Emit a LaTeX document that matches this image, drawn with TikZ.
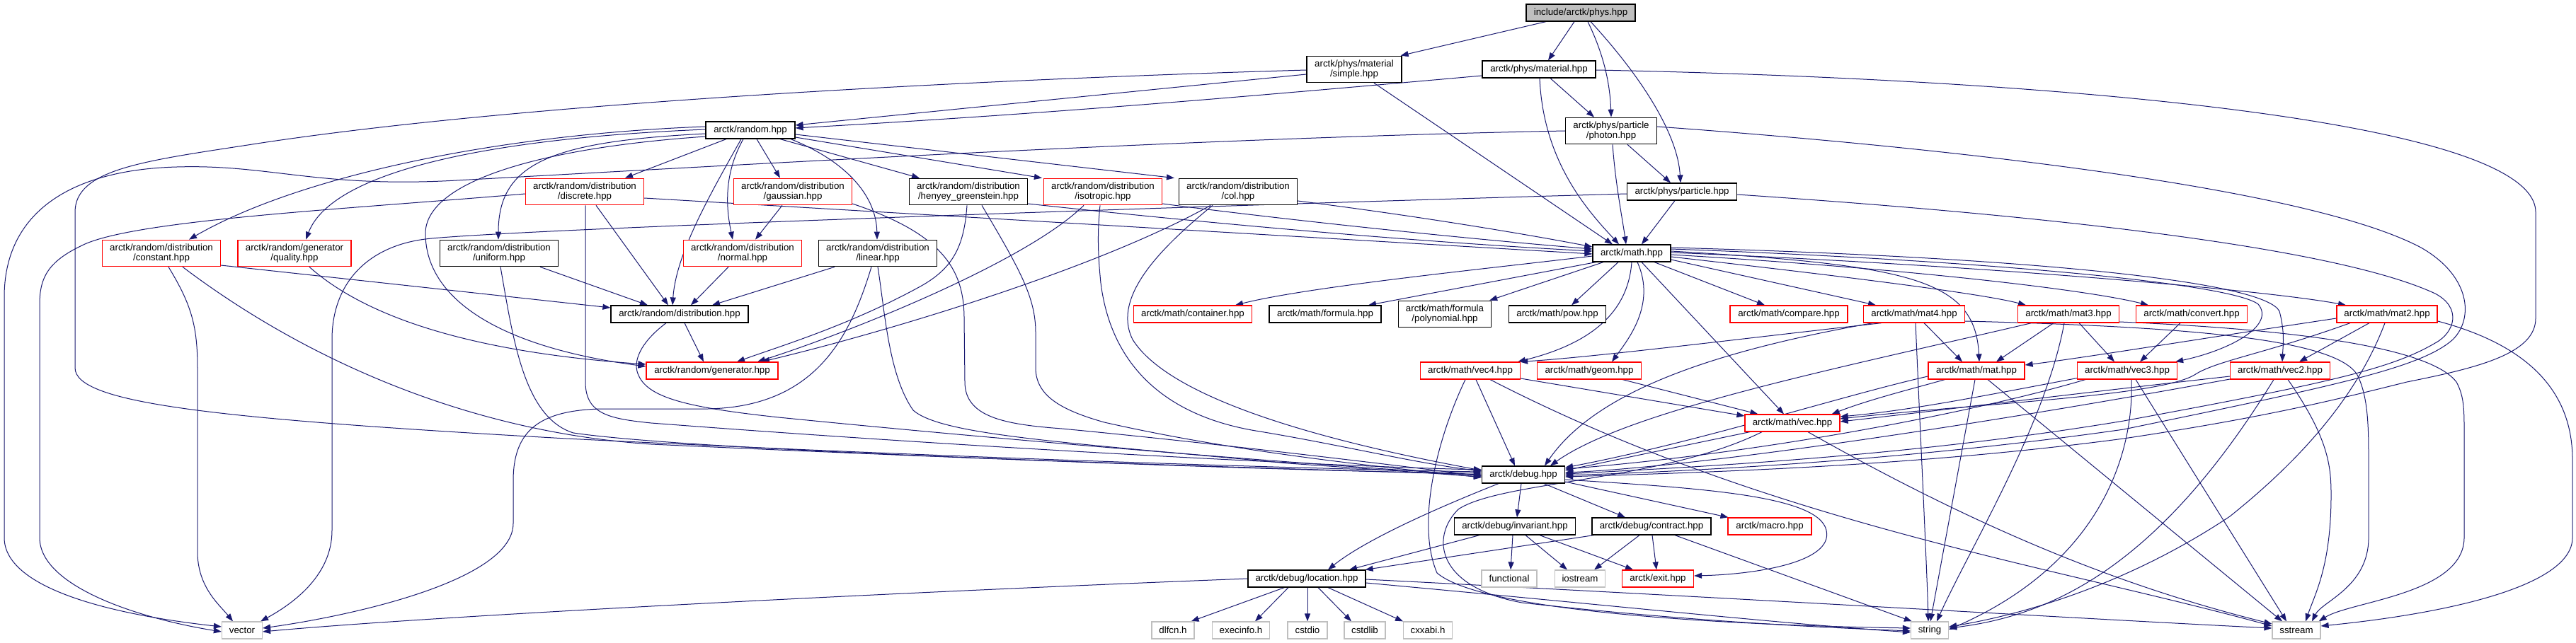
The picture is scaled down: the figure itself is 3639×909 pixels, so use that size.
\documentclass[tikz,border=0pt]{standalone}
\usepackage{fontspec}
\setmainfont{Liberation Sans}
\usetikzlibrary{arrows.meta,calc}
\definecolor{edgec}{HTML}{191970}
\definecolor{leafgray}{HTML}{BFBFBF}
\definecolor{redc}{HTML}{FF0000}
\pgfdeclarelayer{paper}
\pgfdeclarelayer{edgelayer}
\pgfsetlayers{paper,edgelayer,main}
\tikzset{
  base/.style={rectangle, inner sep=0pt, font=\fontsize{6.65pt}{6.85pt}\selectfont, align=center, minimum height=12pt, line width=0.6pt, fill=white},
  blk/.style={base, draw=black},
  redbox/.style={base, draw=redc},
  gry/.style={base, draw=leafgray},
  two/.style={minimum height=18.75pt},
  dep/.style={draw=edgec, line width=0.5pt, -{Triangle[length=5.5pt,width=4pt]}}
}
\begin{document}
\begin{tikzpicture}[x=0.5pt,y=-0.5pt]
\begin{pgfonlayer}{paper}
\fill[white] (0,0) rectangle (3639,909);
\end{pgfonlayer}
\useasboundingbox (0,0) rectangle (3639,909);

% ---------------- nodes ----------------
\node[blk, fill=leafgray, minimum width=77pt] (phys) at (2233,18) {include/arctk/phys.hpp};
\node[blk, two, minimum width=67pt] (simple) at (1913,98) {arctk/phys/material\\/simple.hpp};
\node[blk, minimum width=80pt] (material) at (2174,98) {arctk/phys/material.hpp};
\node[blk, two, minimum width=64.5pt] (photon) at (2276,185) {arctk/phys/particle\\/photon.hpp};
\node[blk, minimum width=77.5pt] (particle) at (2376,271) {arctk/phys/particle.hpp};
\node[blk, minimum width=63pt] (random) at (1060,184) {arctk/random.hpp};
\node[blk, minimum width=55pt] (math) at (2305,358) {arctk/math.hpp};

\node[redbox, two, minimum width=83.5pt] (discrete) at (826,271) {arctk/random/distribution\\/discrete.hpp};
\node[redbox, two, minimum width=83.5pt] (gaussian) at (1120,271) {arctk/random/distribution\\/gaussian.hpp};
\node[blk, two, minimum width=83.5pt] (henyey) at (1368,271) {arctk/random/distribution\\/henyey\_greenstein.hpp};
\node[redbox, two, minimum width=83.5pt] (isotropic) at (1558,271) {arctk/random/distribution\\/isotropic.hpp};
\node[blk, two, minimum width=83.5pt] (col) at (1749,271) {arctk/random/distribution\\/col.hpp};

\node[redbox, two, minimum width=83.5pt] (constant) at (228,358) {arctk/random/distribution\\/constant.hpp};
\node[redbox, two, minimum width=80pt] (quality) at (416,358) {arctk/random/generator\\/quality.hpp};
\node[blk, two, minimum width=83.5pt] (uniform) at (705,358) {arctk/random/distribution\\/uniform.hpp};
\node[redbox, two, minimum width=83.5pt] (normal) at (1049,358) {arctk/random/distribution\\/normal.hpp};
\node[blk, two, minimum width=83.5pt] (linear) at (1240,358) {arctk/random/distribution\\/linear.hpp};

\node[blk, minimum width=97pt] (distribution) at (960,444) {arctk/random/distribution.hpp};
\node[redbox, minimum width=93pt] (generator) at (1006,524) {arctk/random/generator.hpp};

\node[redbox, minimum width=83.5pt] (container) at (1685,444) {arctk/math/container.hpp};
\node[blk, minimum width=79pt] (formula) at (1872,444) {arctk/math/formula.hpp};
\node[blk, two, minimum width=65.5pt] (polynomial) at (2041,444) {arctk/math/formula\\/polynomial.hpp};
\node[blk, minimum width=68.5pt] (pow) at (2200,444) {arctk/math/pow.hpp};
\node[redbox, minimum width=83pt] (compare) at (2527,444) {arctk/math/compare.hpp};
\node[redbox, minimum width=71.5pt] (mat4) at (2704,444) {arctk/math/mat4.hpp};
\node[redbox, minimum width=71.5pt] (mat3) at (2922,444) {arctk/math/mat3.hpp};
\node[redbox, minimum width=78.5pt] (convert) at (3096,444) {arctk/math/convert.hpp};
\node[redbox, minimum width=71pt] (mat2) at (3372,444) {arctk/math/mat2.hpp};

\node[redbox, minimum width=70.5pt] (vec4) at (2077,524) {arctk/math/vec4.hpp};
\node[redbox, minimum width=73.5pt] (geom) at (2245,524) {arctk/math/geom.hpp};
\node[redbox, minimum width=68pt] (mat) at (2792,524) {arctk/math/mat.hpp};
\node[redbox, minimum width=70.5pt] (vec3) at (3005,524) {arctk/math/vec3.hpp};
\node[redbox, minimum width=70.5pt] (vec2) at (3221,524) {arctk/math/vec2.hpp};
\node[redbox, minimum width=67pt] (vec) at (2532,598) {arctk/math/vec.hpp};

\node[blk, minimum width=58.5pt] (debug) at (2152,671) {arctk/debug.hpp};
\node[blk, minimum width=85.5pt] (invariant) at (2140,744) {arctk/debug/invariant.hpp};
\node[blk, minimum width=84pt] (contract) at (2333,744) {arctk/debug/contract.hpp};
\node[redbox, minimum width=59pt] (macro) at (2500,744) {arctk/macro.hpp};
\node[blk, minimum width=83pt] (location) at (1846,818) {arctk/debug/location.hpp};
\node[gry, minimum width=39pt] (functional) at (2132,818) {functional};
\node[gry, minimum width=35.5pt] (iostream) at (2232,818) {iostream};
\node[redbox, minimum width=50.5pt] (exit) at (2342,818) {arctk/exit.hpp};

\node[gry, minimum width=30pt] (dlfcn) at (1657,891) {dlfcn.h};
\node[gry, minimum width=40.5pt] (execinfo) at (1753,891) {execinfo.h};
\node[gry, minimum width=28pt] (cstdio) at (1847,891) {cstdio};
\node[gry, minimum width=29pt] (cstdlib) at (1928,891) {cstdlib};
\node[gry, minimum width=34.5pt] (cxxabi) at (2017,891) {cxxabi.h};
\node[gry, minimum width=28.5pt] (vector) at (342,891) {vector};
\node[gry, minimum width=26.5pt] (string) at (2726,891) {string};
\node[gry, minimum width=34pt] (sstream) at (3244,891) {sstream};

% ---------------- edges ----------------
\begin{pgfonlayer}{edgelayer}
% phys
\draw[dep] ($(phys.south)+(-49,0)$) -- ($(simple.north east)+(-2,0)$);
\draw[dep] ($(phys.south)+(-9,0)$) -- ($(material.north)+(13,0)$);
\draw[dep] ($(phys.south)+(10,0)$) .. controls (2262,70) and (2274,110) .. (photon.north);
\draw[dep] ($(phys.south)+(14,0)$) .. controls (2320,110) and (2370,190) .. ($(particle.north)+(-2,0)$);
% material / photon / particle / simple
\draw[dep] ($(material.south)+(16,0)$) -- ($(photon.north)+(-24,0)$);
\draw[dep] ($(material.south)+(1,0)$) .. controls (2180,230) and (2245,300) .. ($(math.north)+(-18,0)$);
\draw[dep] ($(photon.south)+(2,0)$) .. controls (2282,260) and (2292,310) .. ($(math.north)+(-8,0)$);
\draw[dep] ($(photon.south)+(23,0)$) -- ($(particle.north)+(-16,0)$);
\draw[dep] ($(particle.south)+(-10,0)$) -- ($(math.north)+(14,0)$);
\draw[dep] ($(simple.south)+(28,0)$) -- ($(math.north)+(-27,0)$);
\draw[dep] ($(simple.west)+(0,7)$) -- ($(random.east)+(0,-7)$);
\draw[dep] ($(material.west)+(0,9)$) .. controls (1800,133) and (1500,160) .. ($(random.east)+(0,-3)$);
\draw[dep] ($(simple.west)+(0,1)$) .. controls (1300,115) and (700,150) .. (350,205) .. controls (200,228) and (106,240) .. (106,300) -- (106,520) .. controls (106,570) and (300,592) .. (800,620) .. controls (1400,650) and (1900,664) .. ($(debug.west)+(0,-4)$);
\draw[dep] (photon.west) .. controls (1700,195) and (1100,230) .. (645,255) .. controls (450,266) and (380,232) .. (250,236) .. controls (100,240) and (6,300) .. (6,420) -- (6,760) .. controls (6,830) and (150,868) .. ($(vector.west)+(0,-5)$);
\draw[dep] ($(photon.east)+(0,-6)$) .. controls (2700,205) and (3250,260) .. (3420,350) .. controls (3490,390) and (3495,450) .. (3465,480) .. controls (3420,520) and (3300,545) .. (3000,607) .. controls (2700,650) and (2400,666) .. ($(debug.east)+(0,1)$);
\draw[dep] ($(particle.west)+(0,3)$) .. controls (1900,285) and (800,320) .. (610,337) .. controls (520,345) and (469,400) .. (469,480) -- (469,750) .. controls (469,810) and (420,850) .. ($(vector.north east)+(-3,0)$);
\draw[dep] ($(particle.east)+(0,4)$) .. controls (2900,305) and (3300,350) .. (3440,415) .. controls (3478,435) and (3468,470) .. (3440,485) .. controls (3380,520) and (3300,540) .. (3000,595) .. controls (2700,645) and (2400,660) .. ($(debug.east)+(0,-1)$);
\draw[dep] ($(material.east)+(0,1)$) .. controls (2900,112) and (3582,170) .. (3582,300) -- (3582,450) .. controls (3582,500) and (3500,520) .. (3400,540) .. controls (3300,565) and (3200,590) .. (3000,620) .. controls (2700,660) and (2400,668) .. ($(debug.east)+(0,3)$);
% random
\draw[dep] ($(random.south)+(-34,0)$) -- ($(discrete.north)+(57,0)$);
\draw[dep] ($(random.west)+(0,-5)$) .. controls (700,190) and (420,250) .. ($(constant.north)+(39,0)$);
\draw[dep] ($(random.west)+(0,-1)$) .. controls (700,195) and (470,240) .. ($(quality.north)+(16,0)$);
\draw[dep] ($(random.west)+(0,5)$) .. controls (780,200) and (704,230) .. ($(uniform.north)+(-1,0)$);
\draw[dep] ($(random.west)+(0,9)$) .. controls (750,210) and (601,260) .. (601,330) .. controls (601,420) and (700,490) .. ($(generator.west)+(0,-6)$);
\draw[dep] ($(random.south)+(-13,0)$) .. controls (1000,280) and (955,360) .. ($(distribution.north)+(-10,0)$);
\draw[dep] ($(random.south)+(-10,0)$) .. controls (1020,250) and (1027,300) .. ($(normal.north)+(-14,0)$);
\draw[dep] ($(random.south)+(9,0)$) -- ($(gaussian.north)+(-18,0)$);
\draw[dep] ($(random.south)+(57,0)$) .. controls (1200,230) and (1238,280) .. ($(linear.north)+(-1,0)$);
\draw[dep] ($(random.south)+(42,0)$) -- ($(henyey.north)+(-69,0)$);
\draw[dep] ($(random.east)+(0,10)$) -- ($(isotropic.north west)+(-2,0)$);
\draw[dep] ($(random.east)+(0,6)$) -- ($(col.north west)+(-6,0)$);
% discrete
\draw[dep] ($(discrete.east)+(0,9)$) -- ($(math.west)+(0,1)$);
\draw[dep] ($(discrete.west)+(0,3)$) .. controls (500,295) and (200,310) .. (120,345) .. controls (70,368) and (56,390) .. (56,430) -- (56,760) .. controls (56,830) and (200,875) .. ($(vector.west)+(0,2)$);
\draw[dep] ($(discrete.south)+(1,0)$) -- (827,540) .. controls (827,585) and (860,592) .. (920,598) .. controls (1400,635) and (1900,660) .. ($(debug.west)+(0,-7)$);
\draw[dep] ($(discrete.south)+(16,0)$) -- ($(distribution.north)+(-16,0)$);
% constant
\draw[dep] ($(constant.east)+(0,17)$) -- ($(distribution.west)+(0,-9)$);
\draw[dep] ($(constant.south)+(10,0)$) .. controls (270,430) and (279,460) .. (279,520) -- (279,780) .. controls (279,830) and (310,855) .. ($(vector.north)+(-13,0)$);
\draw[dep] ($(constant.south)+(30,0)$) .. controls (420,500) and (650,610) .. (920,628) .. controls (1400,650) and (1900,668) .. ($(debug.west)+(0,-2)$);
% quality
\draw[dep] ($(quality.south)+(21,0)$) .. controls (530,460) and (700,500) .. ($(generator.west)+(0,-9)$);
% uniform
\draw[dep] ($(uniform.south)+(58,0)$) -- ($(distribution.north)+(-45,0)$);
\draw[dep] ($(uniform.south)+(2,0)$) .. controls (725,480) and (740,590) .. (810,612) .. controls (1000,640) and (1800,662) .. (debug.west);
% gaussian
\draw[dep] ($(gaussian.south)+(-15,0)$) -- ($(normal.north)+(18,0)$);
\draw[dep] ($(gaussian.east)+(0,17)$) .. controls (1330,330) and (1362,380) .. (1362,450) -- (1363,540) .. controls (1363,590) and (1420,600) .. (1500,606) .. controls (1700,625) and (1950,655) .. ($(debug.west)+(0,2)$);
% henyey
\draw[dep] ($(henyey.east)+(0,17)$) .. controls (1700,315) and (2000,342) .. ($(math.west)+(0,-3)$);
\draw[dep] ($(henyey.south)+(-2,0)$) .. controls (1362,350) and (1345,380) .. (1300,405) .. controls (1200,460) and (1100,490) .. ($(generator.north)+(35,0)$);
\draw[dep] ($(henyey.south)+(19,0)$) .. controls (1440,380) and (1463,420) .. (1463,470) -- (1463,520) .. controls (1463,560) and (1500,580) .. (1560,597) .. controls (1750,640) and (1950,660) .. ($(debug.west)+(0,4)$);
% isotropic
\draw[dep] ($(isotropic.east)+(0,17)$) .. controls (1850,315) and (2100,340) .. ($(math.west)+(0,-6)$);
\draw[dep] ($(isotropic.south)+(-27,0)$) .. controls (1450,370) and (1200,470) .. ($(generator.north)+(64,0)$);
\draw[dep] ($(isotropic.south)+(-4,0)$) .. controls (1550,330) and (1551,360) .. (1555,400) .. controls (1570,520) and (1650,590) .. (1780,610) .. controls (1900,630) and (2000,655) .. ($(debug.west)+(0,-5)$);
% col
\draw[dep] ($(col.east)+(0,13)$) .. controls (2000,305) and (2150,330) .. ($(math.west)+(0,-9)$);
\draw[dep] ($(col.south)+(-39,0)$) .. controls (1550,380) and (1250,470) .. ($(generator.north)+(70,0)$);
\draw[dep] ($(col.south)+(-36,0)$) .. controls (1640,350) and (1570,420) .. (1600,480) .. controls (1650,560) and (1850,620) .. ($(debug.west)+(0,-6)$);
% normal, linear
\draw[dep] ($(normal.south)+(-20,0)$) -- ($(distribution.north)+(16,0)$);
\draw[dep] ($(linear.south)+(-61,0)$) -- ($(distribution.north)+(46,0)$);
\draw[dep] (linear.south) .. controls (1250,440) and (1255,530) .. (1290,580) .. controls (1330,615) and (1500,625) .. (1820,655) -- ($(debug.west)+(0,3)$);
\draw[dep] ($(linear.south)+(-9,0)$) .. controls (1200,480) and (1150,575) .. (1000,578) -- (850,578) .. controls (760,580) and (725,610) .. (725,680) -- (725,740) .. controls (725,820) and (500,870) .. ($(vector.east)+(0,-3)$);
% distribution
\draw[dep] ($(distribution.south)+(7,0)$) -- ($(generator.north)+(-12,0)$);
\draw[dep] ($(distribution.south)+(-19,0)$) .. controls (910,480) and (895,505) .. (900,525) .. controls (910,560) and (960,575) .. (1100,590) .. controls (1500,630) and (1900,660) .. ($(debug.west)+(0,1)$);
% math
\draw[dep] ($(math.west)+(0,4)$) .. controls (2100,380) and (1850,405) .. ($(container.north)+(60,0)$);
\draw[dep] ($(math.south west)+(5,0)$) -- ($(formula.north)+(61,0)$);
\draw[dep] ($(math.south)+(-40,0)$) -- ($(polynomial.north east)+(-3,0)$);
\draw[dep] ($(math.south)+(-19,0)$) -- ($(pow.north)+(20,0)$);
\draw[dep] ($(math.south)+(32,0)$) -- ($(compare.north)+(-34,0)$);
\draw[dep] ($(math.east)+(0,9)$) -- ($(mat4.north)+(-54,0)$);
\draw[dep] ($(math.east)+(0,5)$) .. controls (2600,390) and (2800,415) .. ($(mat3.north)+(-60,0)$);
\draw[dep] ($(math.east)+(0,2)$) .. controls (2700,380) and (2950,410) .. ($(convert.north)+(-61,0)$);
\draw[dep] ($(math.east)+(0,-1)$) .. controls (2800,375) and (3200,410) .. ($(mat2.north)+(-58,0)$);
\draw[dep] (math.south) .. controls (2300,440) and (2250,485) .. ($(vec4.north east)+(-4,0)$);
\draw[dep] ($(math.south)+(8,0)$) .. controls (2340,430) and (2300,480) .. ($(geom.north)+(32,0)$);
\draw[dep] ($(math.south)+(14,0)$) -- ($(vec.north)+(-12,0)$);
\draw[dep] ($(math.east)+(0,-3)$) .. controls (2700,375) and (2790,395) .. ($(mat.north)+(4,0)$);
\draw[dep] ($(math.east)+(0,-6)$) .. controls (2800,368) and (3150,400) .. (3190,430) .. controls (3215,460) and (3150,495) .. ($(vec3.north east)+(-3,0)$);
\draw[dep] ($(math.east)+(0,-8)$) .. controls (2900,365) and (3200,400) .. (3220,440) .. controls (3228,470) and (3225,490) .. ($(vec2.north)+(3,0)$);
% mat4
\draw[dep] ($(mat4.south)+(-46,0)$) .. controls (2450,480) and (2250,505) .. ($(vec4.north east)+(-1,0)$);
\draw[dep] ($(mat4.south)+(14,0)$) -- ($(mat.north)+(-20,0)$);
\draw[dep] ($(mat4.south)+(-58,0)$) .. controls (2400,500) and (2250,560) .. ($(debug.north)+(30,0)$);
\draw[dep] ($(mat4.south)+(2,0)$) .. controls (2712,600) and (2722,800) .. ($(string.north)+(-2,0)$);
\draw[dep] ($(mat4.east)+(0,10)$) .. controls (3100,462) and (3300,480) .. (3330,530) .. controls (3345,560) and (3346,600) .. (3346,650) -- (3346,760) .. controls (3346,830) and (3280,850) .. ($(sstream.north)+(22,0)$);
% mat3
\draw[dep] ($(mat3.south)+(-21,0)$) -- ($(mat.north)+(28,0)$);
\draw[dep] ($(mat3.south)+(15,0)$) -- ($(vec3.north)+(-18,0)$);
\draw[dep] ($(mat3.south west)+(20,0)$) .. controls (2600,520) and (2300,580) .. ($(debug.north)+(38,0)$);
\draw[dep] ($(mat3.south)+(-6,0)$) .. controls (2890,600) and (2780,780) .. ($(string.north)+(10,0)$);
\draw[dep] ($(mat3.east)+(0,11)$) .. controls (3300,468) and (3440,500) .. (3470,540) .. controls (3481,560) and (3481,580) .. (3481,610) -- (3481,760) .. controls (3481,840) and (3320,850) .. ($(sstream.north east)+(-3,0)$);
% convert
\draw[dep] ($(convert.south)+(-16,0)$) -- ($(vec3.north)+(18,0)$);
% mat2
\draw[dep] ($(mat2.west)+(0,6)$) .. controls (3100,480) and (2950,505) .. ($(mat.east)+(0,-8)$);
\draw[dep] ($(mat2.south)+(-25,0)$) -- ($(vec2.north)+(27,0)$);
\draw[dep] ($(mat2.south)+(-52,0)$) .. controls (3200,500) and (3130,510) .. (3100,530) .. controls (3050,560) and (2800,570) .. ($(vec.east)+(0,-6)$);
\draw[dep] ($(mat2.south)+(-3,0)$) .. controls (3330,560) and (3250,650) .. (3150,730) .. controls (3000,830) and (2850,870) .. ($(string.east)+(0,-5)$);
\draw[dep] ($(mat2.east)+(0,10)$) .. controls (3580,490) and (3634,560) .. (3634,650) -- (3634,760) .. controls (3634,830) and (3450,868) .. ($(sstream.east)+(0,-6)$);
% vec4
\draw[dep] ($(vec4.east)+(0,11)$) -- ($(vec.west)+(0,-10)$);
\draw[dep] ($(vec4.south)+(8,0)$) -- ($(debug.north)+(-12,0)$);
\draw[dep] ($(vec4.south)+(-7,0)$) .. controls (2030,620) and (2000,740) .. (2030,810) .. controls (2100,870) and (2500,885) .. ($(string.west)+(0,-3)$);
\draw[dep] ($(vec4.south)+(28,0)$) .. controls (2500,740) and (2900,800) .. ($(sstream.west)+(0,-6)$);
% geom
\draw[dep] ($(geom.south)+(47,0)$) -- ($(vec.north west)+(19,0)$);
% mat
\draw[dep] ($(mat.south west)+(24,0)$) .. controls (2700,550) and (2640,565) .. ($(vec.north east)+(-12,0)$);
\draw[dep] ($(mat.west)+(0,8)$) .. controls (2600,560) and (2400,625) .. ($(debug.east)+(0,-10)$);
\draw[dep] ($(mat.south)+(-2,0)$) -- ($(string.north)+(1,0)$);
\draw[dep] ($(mat.south)+(16,0)$) -- ($(sstream.north)+(-20,0)$);
% vec3
\draw[dep] ($(vec3.south west)+(0,-2)$) .. controls (2800,560) and (2700,580) .. ($(vec.east)+(0,-9)$);
\draw[dep] ($(vec3.south west)+(12,0)$) .. controls (2800,580) and (2500,640) .. ($(debug.east)+(0,-8)$);
\draw[dep] ($(vec3.south)+(6,0)$) .. controls (3015,650) and (2960,800) .. ($(string.east)+(0,-1)$);
\draw[dep] ($(vec3.south)+(12,0)$) -- ($(sstream.north)+(-14,0)$);
% vec2
\draw[dep] ($(vec2.west)+(0,8)$) .. controls (2900,560) and (2700,585) .. ($(vec.east)+(0,-2)$);
\draw[dep] ($(vec2.west)+(0,12)$) .. controls (2800,600) and (2400,660) .. ($(debug.east)+(0,-3)$);
\draw[dep] ($(vec2.south)+(-9,0)$) .. controls (3050,800) and (2900,870) .. ($(string.east)+(0,-3)$);
\draw[dep] ($(vec2.south)+(11,0)$) .. controls (3290,620) and (3293,660) .. (3293,700) .. controls (3293,800) and (3270,840) .. ($(sstream.north)+(13,0)$);
% vec
\draw[dep] ($(vec.south)+(-60,0)$) -- ($(debug.east)+(0,-6)$);
\draw[dep] ($(vec.south)+(-43,0)$) .. controls (2350,680) and (2120,680) .. (2060,720) .. controls (2020,760) and (2030,830) .. (2150,852) .. controls (2400,880) and (2600,888) .. ($(string.west)+(0,1)$);
\draw[dep] ($(vec.south)+(22,0)$) .. controls (2800,750) and (3000,830) .. ($(sstream.west)+(0,-9)$);
% debug
\draw[dep] ($(debug.south)+(-35,0)$) .. controls (2000,730) and (1920,770) .. ($(location.north)+(30,0)$);
\draw[dep] ($(debug.south)+(-3,0)$) -- ($(invariant.north)+(3,0)$);
\draw[dep] ($(debug.south)+(29,0)$) -- ($(contract.north)+(-37,0)$);
\draw[dep] ($(debug.east)+(0,10)$) -- ($(macro.north west)+(1,0)$);
\draw[dep] ($(debug.east)+(0,7)$) .. controls (2400,690) and (2570,700) .. (2580,750) .. controls (2590,795) and (2480,812) .. ($(exit.east)+(0,-4)$);
% invariant
\draw[dep] ($(invariant.south)+(-50,0)$) -- ($(location.north)+(60,0)$);
\draw[dep] ($(invariant.south)+(-3,0)$) -- ($(functional.north)+(2,0)$);
\draw[dep] ($(invariant.south)+(15,0)$) -- ($(iostream.north)+(-18,0)$);
\draw[dep] ($(invariant.south)+(35,0)$) -- ($(exit.north)+(-35,0)$);
% contract
\draw[dep] ($(contract.south west)+(3,0)$) -- ($(location.north east)+(-1,0)$);
\draw[dep] ($(contract.south)+(-17,0)$) -- ($(iostream.north)+(20,0)$);
\draw[dep] ($(contract.south)+(1,0)$) -- ($(exit.north)+(-2,0)$);
\draw[dep] ($(contract.south)+(33,0)$) -- ($(string.north west)+(2,0)$);
% location
\draw[dep] ($(location.south west)+(52,0)$) -- ($(dlfcn.north east)+(-5,0)$);
\draw[dep] ($(location.south)+(-26,0)$) -- ($(execinfo.north)+(20,0)$);
\draw[dep] ($(location.south)+(1,0)$) -- (cstdio.north);
\draw[dep] ($(location.south)+(16,0)$) -- ($(cstdlib.north)+(-19,0)$);
\draw[dep] ($(location.south)+(30,0)$) -- ($(cxxabi.north)+(-35,0)$);
\draw[dep] (location.west) .. controls (1200,840) and (600,872) .. ($(vector.east)+(0,2)$);
\draw[dep] ($(location.east)+(0,6)$) .. controls (2300,858) and (2500,880) .. ($(string.west)+(0,3)$);
\draw[dep] ($(location.east)+(0,1)$) .. controls (2500,848) and (3000,878) .. ($(sstream.west)+(0,-3)$);
\end{pgfonlayer}
\end{tikzpicture}
\end{document}
